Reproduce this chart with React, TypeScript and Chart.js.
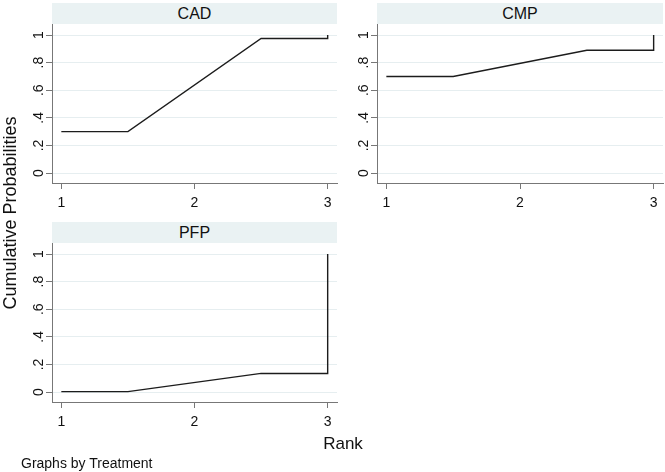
import React, { useEffect, useRef } from 'react';
import { Chart, registerables } from 'chart.js';

Chart.register(...registerables);

const FONT = '"Liberation Sans", Arial, Helvetica, sans-serif';

// ---- data ----
const treatments = ['CAD', 'CMP', 'PFP'];
const ranks = [1, 2, 3];
const cadCumulative = [0.3, 0.975, 1];
const cmpCumulative = [0.7, 0.89, 1];
const pfpCumulative = [0.003, 0.135, 1];
const yTickValues = [0, 0.2, 0.4, 0.6, 0.8, 1];
const yTickLabels = ['0', '.2', '.4', '.6', '.8', '1'];
const xTickValues = [1, 2, 3];
const xTickLabels = ['1', '2', '3'];

type Area = { left: number; top: number; right: number; bottom: number };

function buildPoints(r: number[], c: number[]) {
  const pts = [{ x: r[0], y: c[0] }];
  for (let i = 0; i < r.length - 1; i++) pts.push({ x: (r[i] + r[i + 1]) / 2, y: c[i] });
  const n = r.length;
  pts.push({ x: r[n - 1], y: c[n - 2] });
  pts.push({ x: r[n - 1], y: c[n - 1] });
  return pts;
}

const rotatedYTicks = {
  id: 'rotatedYTicks',
  afterDraw(chart: any) {
    const y = chart.scales.y;
    const ctx = chart.ctx;
    ctx.save();
    ctx.fillStyle = '#111';
    ctx.font = `14px ${FONT}`;
    ctx.textAlign = 'center';
    ctx.textBaseline = 'alphabetic';
    yTickValues.forEach((v, i) => {
      const py = y.getPixelForValue(v);
      ctx.save();
      ctx.translate(chart.chartArea.left - 9, py);
      ctx.rotate(-Math.PI / 2);
      ctx.fillText(yTickLabels[i], 0, 0);
      ctx.restore();
    });
    ctx.restore();
  },
};

function Panel({ title, values, area }: { title: string; values: number[]; area: Area }) {
  const ref = useRef<HTMLCanvasElement | null>(null);
  const padTop = 4;
  const padRight = 6;
  const yw = 52;
  const xh = 34;
  const w = area.right - area.left + yw + padRight;
  const h = area.bottom - area.top + padTop + xh;

  useEffect(() => {
    if (!ref.current) return;
    const chart = new Chart(ref.current, {
      type: 'line',
      data: {
        datasets: [
          {
            label: title,
            data: buildPoints(ranks, values),
            borderColor: '#1c1c1c',
            borderWidth: 1.4,
            pointRadius: 0,
            tension: 0,
            fill: false,
            clip: false as any,
          },
        ],
      },
      options: {
        animation: false,
        responsive: false,
        devicePixelRatio: 1,
        layout: { padding: { top: padTop, right: padRight, left: 0, bottom: 0 } },
        plugins: { legend: { display: false }, tooltip: { enabled: false }, title: { display: false } },
        scales: {
          x: {
            type: 'linear',
            min: 0.93,
            max: 3.07,
            afterBuildTicks: (s: any) => {
              s.ticks = xTickValues.map((v) => ({ value: v }));
            },
            afterFit: (s: any) => {
              s.height = xh;
            },
            ticks: {
              autoSkip: false,
              maxRotation: 0,
              minRotation: 0,
              padding: 6,
              color: '#111',
              font: { size: 14, family: FONT },
              callback: (v: any) => xTickLabels[xTickValues.indexOf(Number(v))] ?? '',
            },
            grid: {
              display: true,
              drawOnChartArea: false,
              drawTicks: true,
              tickLength: 6,
              tickColor: '#777',
            },
            border: { display: true, color: '#777', width: 1 },
          },
          y: {
            type: 'linear',
            min: -0.072,
            max: 1.08,
            afterBuildTicks: (s: any) => {
              s.ticks = yTickValues.map((v) => ({ value: v }));
            },
            afterFit: (s: any) => {
              s.width = yw;
            },
            ticks: { display: false },
            grid: {
              display: true,
              drawOnChartArea: true,
              drawTicks: true,
              tickLength: 6,
              color: '#e6eef0',
              tickColor: '#777',
              lineWidth: 1,
            },
            border: { display: true, color: '#777', width: 1 },
          },
        },
      },
      plugins: [rotatedYTicks],
    });
    return () => chart.destroy();
  }, []);

  return (
    <>
      <div
        style={{
          position: 'absolute',
          left: area.left,
          top: area.top - 21,
          width: area.right - area.left,
          height: 21,
          background: '#eaf2f3',
          fontFamily: FONT,
          fontSize: 16,
          color: '#111',
          display: 'flex',
          alignItems: 'center',
          justifyContent: 'center',
        }}
      >
        {title}
      </div>
      <canvas
        ref={ref}
        width={w}
        height={h}
        style={{ position: 'absolute', left: area.left - yw, top: area.top - padTop, width: w, height: h }}
      />
    </>
  );
}

const areas: Area[] = [
  { left: 52, top: 24, right: 337, bottom: 183 },
  { left: 377, top: 24, right: 663, bottom: 183 },
  { left: 52, top: 243, right: 337, bottom: 402 },
];
const seriesList = [cadCumulative, cmpCumulative, pfpCumulative];

export default function App() {
  return (
    <div
      style={{
        position: 'fixed',
        left: 0,
        top: 0,
        width: 665,
        height: 472,
        background: '#fff',
        overflow: 'hidden',
        fontFamily: FONT,
      }}
    >
      {treatments.map((t, i) => (
        <Panel key={t} title={t} values={seriesList[i]} area={areas[i]} />
      ))}
      <div
        style={{
          position: 'absolute',
          left: 10 - 130,
          top: 213 - 10,
          width: 260,
          height: 20,
          lineHeight: '20px',
          fontSize: 18,
          textAlign: 'center',
          color: '#111',
          transform: 'rotate(-90deg)',
          whiteSpace: 'nowrap',
        }}
      >
        Cumulative Probabilities
      </div>
      <div
        style={{
          position: 'absolute',
          left: 300,
          top: 434.5,
          width: 86,
          height: 17,
          lineHeight: '17px',
          fontSize: 17,
          textAlign: 'center',
          color: '#111',
          whiteSpace: 'nowrap',
        }}
      >
        Rank
      </div>
      <div
        style={{
          position: 'absolute',
          left: 21,
          top: 455.5,
          height: 14,
          lineHeight: '14px',
          fontSize: 14,
          color: '#111',
          whiteSpace: 'nowrap',
        }}
      >
        Graphs by Treatment
      </div>
    </div>
  );
}
